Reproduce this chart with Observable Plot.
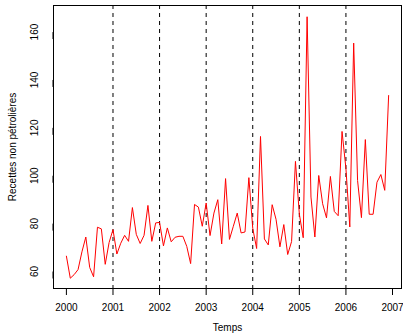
<!DOCTYPE html>
<html><head><meta charset="utf-8">
<script src="https://cdn.jsdelivr.net/npm/d3@7"></script>
<script src="https://cdn.jsdelivr.net/npm/@observablehq/plot@0.6"></script>
<style>body{margin:0;background:#fff}</style>
</head><body><div id="chart"></div>
<script>
const startYear = 2000;
const monthlyValues = [
  66.4, 57.2, 58.7, 60.8, 68.2, 74.4, 61.7, 57.8, 78.5, 77.8, 63.0, 72.1,
  77.5, 67.3, 71.8, 75.1, 72.6, 86.7, 75.5, 71.7, 75.1, 87.6, 72.6, 80.3,
  80.5, 70.7, 78.2, 72.4, 74.3, 74.7, 74.7, 70.5, 63.3, 88.0, 86.9, 78.9,
  88.6, 75.0, 84.4, 90.0, 71.5, 98.8, 73.4, 78.9, 84.4, 76.1, 76.5, 99.2,
  78.0, 69.6, 116.4, 73.6, 71.1, 87.9, 81.8, 70.3, 79.6, 67.1, 72.5, 106.0,
  84.0, 74.1, 166.4, 91.1, 74.4, 100.1, 88.3, 82.4, 99.7, 85.1, 83.3, 118.5,
  103.0, 78.6, 155.4, 98.0, 82.5, 115.1, 83.9, 83.9, 97.3, 100.5, 93.9, 133.5
];
const yearLines = [2001, 2002, 2003, 2004, 2005, 2006];
const xTicks = [2000, 2001, 2002, 2003, 2004, 2005, 2006, 2007];
const yTicks = [60, 80, 100, 120, 140, 160];
const xLabel = "Temps";
const yLabel = "Recettes non pétrolières";

const data = monthlyValues.map((v, i) => ({t: startYear + i / 12, v}));

const chart = Plot.plot({
  width: 403, height: 333,
  marginLeft: 53, marginRight: 2, marginTop: 5, marginBottom: 45,
  style: {fontFamily: "'Liberation Sans', Arial, sans-serif", fontSize: "10px", background: "white", color: "black"},
  x: {domain: [1999.723, 2007.193]},
  y: {domain: [52.9, 171.1]},
  marks: [
    Plot.ruleX(yearLines, {stroke: "black", strokeDasharray: "4,4", strokeWidth: 1}),
    Plot.line(data, {x: "t", y: "v", stroke: "red", strokeWidth: 1}),
    Plot.frame({stroke: "black"}),
    Plot.axisX({ticks: xTicks, tickFormat: d => String(d), tickSize: 7, tickPadding: 8,
      label: xLabel, labelAnchor: "center", labelOffset: 42, labelArrow: "none"}),
    Plot.axisY({ticks: yTicks, tickFormat: d => String(d), tickSize: 7, tickPadding: 12, rotate: -90, textAnchor: "middle",
      label: yLabel, labelAnchor: "center", labelOffset: 45, labelArrow: "none"})
  ]
});
document.getElementById("chart").appendChild(chart);
</script>
</body></html>
